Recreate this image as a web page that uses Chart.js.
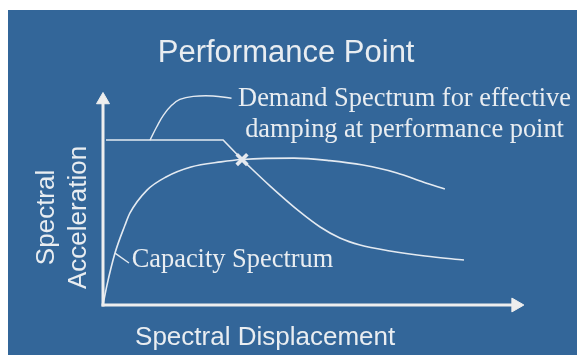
<!DOCTYPE html>
<html>
<head>
<meta charset="utf-8">
<script src="https://cdn.jsdelivr.net/npm/chart.js@4"></script>
<style>
  html, body { margin: 0; padding: 0; background: #ffffff; }
  #wrap { position: absolute; left: 8px; top: 10px; width: 569px; height: 345px; background: #336699; }
  canvas { display: block; }
</style>
</head>
<body>
<div id="wrap"><canvas id="c" width="569" height="345"></canvas></div>
<script>
// ---- data (arbitrary units: displacement 0..100, acceleration 0..100) ----
const capacityX = [0, 0.95, 2.86, 5.24, 6.43, 10.48, 15.0, 20.95, 28.1, 33.1, 45.5, 54.0, 61.9, 70.0, 76.2, 81.4];
const capacityY = [0, 9.4, 24.5, 37.7, 43.4, 54.2, 60.4, 65.1, 67.5, 68.6, 69.3, 68.1, 66.0, 62.3, 58.0, 54.7];

const demandFlatX = [0.71, 28.6, 33.1];
const demandFlatY = [77.8, 77.8, 68.6];

const demandCurveX = [33.1, 39.8, 46.9, 51.7, 56.4, 61.2, 68.3, 76.7, 85.95];
const demandCurveY = [68.6, 56.1, 43.9, 36.8, 31.6, 28.3, 25.5, 23.1, 21.2];

const perfPointX = [33.1];
const perfPointY = [68.6];

const demandLeaderX = [11.2, 12.8, 14.4, 16.4, 18.3, 21.5, 26.2, 30.6];
const demandLeaderY = [77.8, 84.1, 89.6, 94.3, 97.0, 98.4, 98.6, 97.5];

const capacityLeaderX = [2.86, 6.19];
const capacityLeaderY = [24.5, 19.8];

const axisXX = [0, 98.3];
const axisXY = [0, 0];
const axisYX = [0, 0];
const axisYY = [0, 96.7];

const titleText = 'Performance Point';
const xTitle = 'Spectral Displacement';
const yTitle = ['Spectral', 'Acceleration'];
const demandLabel = ['Demand Spectrum for effective', 'damping at performance point'];
const capacityLabel = 'Capacity Spectrum';

// ---- helpers ----
const pts = (xs, ys) => xs.map((x, i) => ({ x: x, y: ys[i] }));
const LINE = '#e4eaf1';
const AXIS = '#eeeeee';
const TEXT = '#e9edf1';

const labelPlugin = {
  id: 'labels',
  afterDatasetsDraw(chart) {
    const ctx = chart.ctx;
    const xs = chart.scales.x, ys = chart.scales.y;
    const X = v => xs.getPixelForValue(v);
    const Y = v => ys.getPixelForValue(v);
    ctx.save();
    ctx.fillStyle = TEXT;
    ctx.textBaseline = 'alphabetic';

    // main title
    ctx.font = '31px "Liberation Sans", Arial, sans-serif';
    ctx.textAlign = 'center';
    ctx.fillText(titleText, X(43.6), Y(114.6));

    // x axis title
    ctx.font = '26px "Liberation Sans", Arial, sans-serif';
    ctx.fillText(xTitle, X(38.6), Y(-19.1));

    // y axis title (rotated)
    const yBase = [-11.67, -4.12];
    yTitle.forEach((t, i) => {
      ctx.save();
      ctx.translate(X(yBase[i]), Y(41.3));
      ctx.rotate(-Math.PI / 2);
      ctx.textAlign = 'center';
      ctx.fillText(t, 0, 0);
      ctx.restore();
    });

    // annotations
    ctx.font = '26.4px "Liberation Serif", "Times New Roman", serif';
    ctx.textAlign = 'center';
    ctx.fillText(demandLabel[0], X(71.8), Y(93.9));
    ctx.fillText(demandLabel[1], X(71.8), Y(79.4));
    ctx.textAlign = 'left';
    ctx.fillText(capacityLabel, X(6.83), Y(18.1));
    ctx.restore();
  }
};

new Chart(document.getElementById('c'), {
  type: 'line',
  data: {
    datasets: [
      { label: 'x axis', data: pts(axisXX, axisXY), borderColor: AXIS, borderWidth: 3, borderCapStyle: 'square',
        pointRadius: c => c.dataIndex === 1 ? 8 : 0, pointStyle: 'triangle', pointRotation: 90,
        pointBackgroundColor: AXIS, pointBorderColor: AXIS, pointBorderWidth: 1, tension: 0 },
      { label: 'y axis', data: pts(axisYX, axisYY), borderColor: AXIS, borderWidth: 3, borderCapStyle: 'square',
        pointRadius: c => c.dataIndex === 1 ? 7.5 : 0, pointStyle: 'triangle', pointRotation: 0,
        pointBackgroundColor: AXIS, pointBorderColor: AXIS, pointBorderWidth: 1, tension: 0 },
      { label: 'Capacity Spectrum', data: pts(capacityX, capacityY), borderColor: LINE, borderWidth: 1.6,
        pointRadius: 0, cubicInterpolationMode: 'monotone' },
      { label: 'Demand (plateau)', data: pts(demandFlatX, demandFlatY), borderColor: LINE, borderWidth: 1.6,
        pointRadius: 0, tension: 0 },
      { label: 'Demand Spectrum', data: pts(demandCurveX, demandCurveY), borderColor: LINE, borderWidth: 1.6,
        pointRadius: 0, cubicInterpolationMode: 'monotone' },
      { label: 'Demand leader', data: pts(demandLeaderX, demandLeaderY), borderColor: LINE, borderWidth: 1.4,
        pointRadius: 0, tension: 0.4 },
      { label: 'Capacity leader', data: pts(capacityLeaderX, capacityLeaderY), borderColor: LINE, borderWidth: 1.4,
        pointRadius: 0, tension: 0 },
      { label: 'Performance Point', data: pts(perfPointX, perfPointY), showLine: false,
        pointStyle: 'crossRot', pointRadius: 7.5, pointBorderWidth: 3.6,
        pointBorderColor: '#e6e9ee', pointBackgroundColor: '#e6e9ee' }
    ]
  },
  options: {
    responsive: false,
    animation: false,
    devicePixelRatio: 1,
    layout: { padding: { left: 95, right: 54, top: 83, bottom: 50 } },
    datasets: { line: { clip: false, fill: false } },
    scales: {
      x: { type: 'linear', min: 0, max: 100, display: false },
      y: { type: 'linear', min: 0, max: 100, display: false }
    },
    plugins: { legend: { display: false }, tooltip: { enabled: false }, title: { display: false } }
  },
  plugins: [labelPlugin]
});
</script>
</body>
</html>
